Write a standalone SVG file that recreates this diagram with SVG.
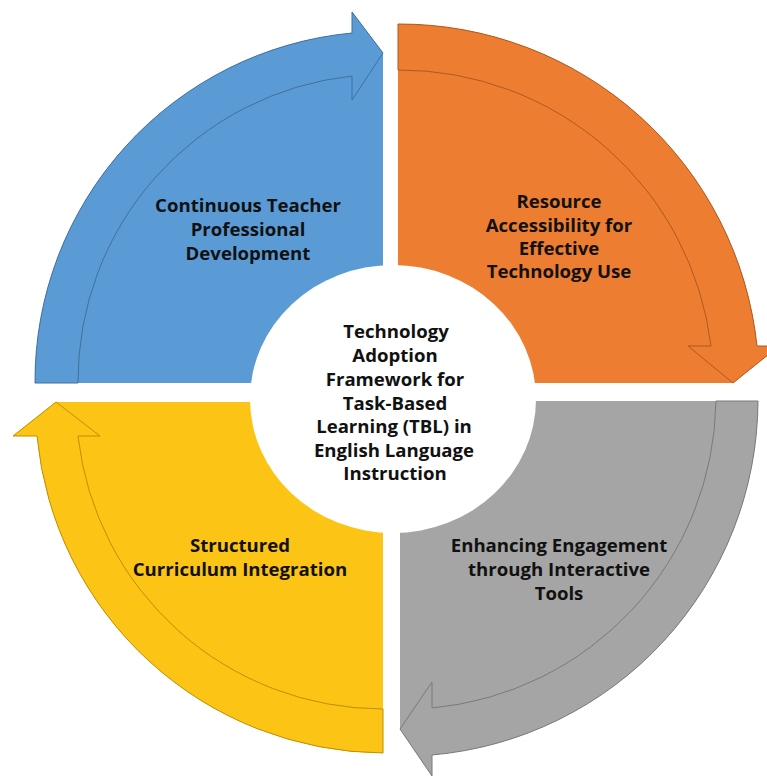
<svg xmlns="http://www.w3.org/2000/svg" width="767" height="776" viewBox="0 0 767 776">
  <style>
    .lbl { font-family: "Open Sans", "Noto Sans", "Liberation Sans", sans-serif; font-weight: 700; font-size: 18.6px; fill: #111; text-anchor: middle; }
    .blue { fill: #5B9BD5; }
    .blue-o { fill: #5B9BD5; stroke: #41719C; stroke-width: 1; }
    .orange { fill: #ED7D31; }
    .orange-o { fill: #ED7D31; stroke: #AE5A21; stroke-width: 1; }
    .gray { fill: #A5A5A5; }
    .gray-o { fill: #A5A5A5; stroke: #7A7A7A; stroke-width: 1; }
    .yellow { fill: #FCC414; }
    .yellow-o { fill: #FCC414; stroke: #BC9000; stroke-width: 1; }
  </style>
  <rect width="767" height="776" fill="#fff"/>

  <!-- Top-left quadrant: teacher development -->
  <g id="node-teacher-development">
    <path class="blue" d="M383,383 L35,383 A350,350 0 0 1 352,33 L352,12 L383,53 Z"/>
    <path class="blue-o" d="M78,383 L35,383 A350,350 0 0 1 352,33 L352,12 L383,53 L352,100 L352,76 A307,307 0 0 0 78,383 Z"/>
    <text class="lbl" x="248" y="212">Continuous Teacher</text>
    <text class="lbl" x="248" y="236">Professional</text>
    <text class="lbl" x="248" y="260">Development</text>
  </g>

  <!-- Top-right quadrant: resource accessibility -->
  <g id="node-resource-accessibility">
    <path class="orange" d="M398,383 L398,24 A360,360 0 0 1 757,346 L779,346 L733,383 Z"/>
    <path class="orange-o" d="M398,70 L398,24 A360,360 0 0 1 757,346 L779,346 L733,383 L688,346 L711,346 A314,314 0 0 0 398,70 Z"/>
    <text class="lbl" x="559" y="208">Resource</text>
    <text class="lbl" x="559" y="232">Accessibility for</text>
    <text class="lbl" x="559" y="255">Effective</text>
    <text class="lbl" x="559" y="278">Technology Use</text>
  </g>

  <!-- Bottom-right quadrant: interactive engagement -->
  <g id="node-engagement">
    <path class="gray" d="M400,401 L758,401 A357,357 0 0 1 432,755 L432,776 L400,729 Z"/>
    <path class="gray-o" d="M716,401 L758,401 A357,357 0 0 1 432,755 L432,776 L400,729 L432,682 L432,708 A313,313 0 0 0 716,401 Z"/>
    <text class="lbl" x="559" y="552">Enhancing Engagement</text>
    <text class="lbl" x="559" y="576">through Interactive</text>
    <text class="lbl" x="559" y="600">Tools</text>
  </g>

  <!-- Bottom-left quadrant: curriculum integration -->
  <g id="node-curriculum">
    <path class="yellow" d="M383,402 L383,753 A350,350 0 0 1 37,436 L13,436 L56,402 Z"/>
    <path class="yellow-o" d="M383,709 L383,753 A350,350 0 0 1 37,436 L13,436 L56,402 L100,436 L78,436 A307,307 0 0 0 383,709 Z"/>
    <text class="lbl" x="240" y="552">Structured</text>
    <text class="lbl" x="240" y="576">Curriculum Integration</text>
  </g>

  <!-- Central hub -->
  <g id="node-center">
    <ellipse cx="393" cy="399" rx="143" ry="134" fill="#fff"/>
    <text class="lbl" x="396" y="338">Technology</text>
    <text class="lbl" x="395" y="362">Adoption</text>
    <text class="lbl" x="395" y="386">Framework for</text>
    <text class="lbl" x="395" y="410">Task-Based</text>
    <text class="lbl" x="394" y="433">Learning (TBL) in</text>
    <text class="lbl" x="394" y="457">English Language</text>
    <text class="lbl" x="395" y="480">Instruction</text>
  </g>

  <g id="connectors"></g>
</svg>
